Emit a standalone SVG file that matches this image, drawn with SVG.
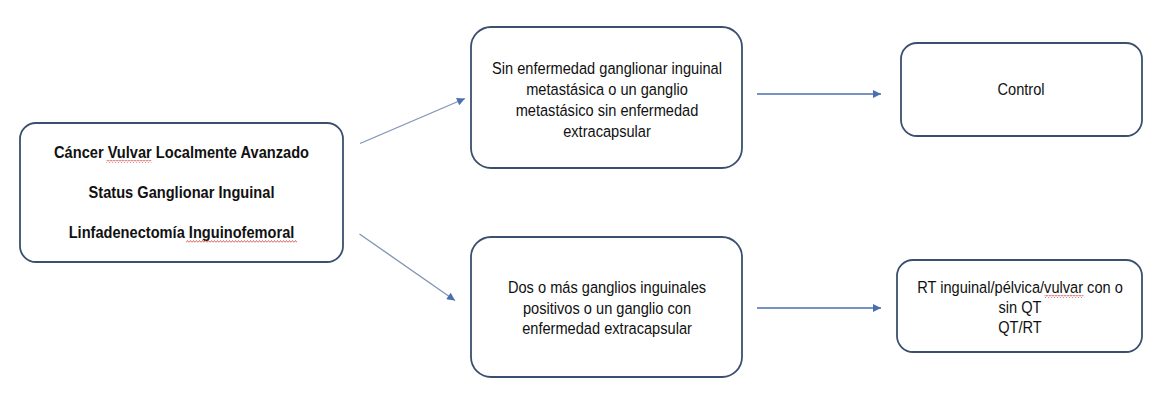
<svg xmlns="http://www.w3.org/2000/svg" width="1160" height="404" viewBox="0 0 1160 404">
<style>
.box{fill:#ffffff;stroke:#3b4f6e;stroke-width:1.8}
.t{font-family:"Liberation Sans",Arial,sans-serif;font-size:17px;fill:#111111;text-anchor:middle}
.b{font-weight:bold}
.diag{stroke:#8094b6;stroke-width:1.3;fill:none}
.hor{stroke:#4a6fae;stroke-width:1.6;fill:none}
.spell{fill:url(#wavy)}
</style>
<defs>
<marker id="ah" viewBox="0 0 10 10" refX="10" refY="5" markerWidth="10" markerHeight="8" markerUnits="userSpaceOnUse" orient="auto">
<path d="M0,0 L10,5 L0,10 Z" fill="#4a6fb0"/>
</marker>
<pattern id="wavy" patternUnits="userSpaceOnUse" x="0" y="0" width="3" height="3">
<polyline points="0,2.5 1.5,0.5 3,2.5" fill="none" stroke="#d24040" stroke-width="0.8"/>
</pattern>
</defs>
<rect width="1160" height="404" fill="#ffffff"/>

<g id="connectors">
<line class="diag" x1="360" y1="143.5" x2="465" y2="98.5" marker-end="url(#ah)"/>
<line class="diag" x1="359.5" y1="234" x2="455" y2="300.5" marker-end="url(#ah)"/>
<line class="hor" x1="757" y1="94" x2="881" y2="94" marker-end="url(#ah)"/>
<line class="hor" x1="757" y1="308" x2="881" y2="308" marker-end="url(#ah)"/>
</g>

<g id="node-main">
<rect class="box" x="20" y="123" width="323" height="139" rx="16"/>
<g transform="translate(181.5,0) scale(0.86,1)">
<text class="t b" x="0" y="158">Cáncer Vulvar Localmente Avanzado</text>
<text class="t b" x="0" y="198">Status Ganglionar Inguinal</text>
<text class="t b" x="0" y="238">Linfadenectomía Inguinofemoral</text>
</g>
<rect class="spell" x="106.5" y="160" width="45" height="3"/>
<rect class="spell" x="186" y="240" width="111" height="3"/>
</g>

<g id="node-sin">
<rect class="box" x="471" y="27" width="271" height="141" rx="20"/>
<g transform="translate(607,0) scale(0.86,1)">
<text class="t" x="0" y="74">Sin enfermedad ganglionar inguinal</text>
<text class="t" x="0" y="95">metastásica o un ganglio</text>
<text class="t" x="0" y="116">metastásico sin enfermedad</text>
<text class="t" x="0" y="137">extracapsular</text>
</g>
</g>

<g id="node-dos">
<rect class="box" x="471" y="237" width="271" height="140" rx="20"/>
<g transform="translate(607,0) scale(0.86,1)">
<text class="t" x="0" y="293">Dos o más ganglios inguinales</text>
<text class="t" x="0" y="314">positivos o un ganglio con</text>
<text class="t" x="0" y="334">enfermedad extracapsular</text>
</g>
</g>

<g id="node-control">
<rect class="box" x="901" y="43" width="241" height="93" rx="16"/>
<g transform="translate(1021,0) scale(0.86,1)">
<text class="t" x="0" y="95">Control</text>
</g>
</g>

<g id="node-rt">
<rect class="box" x="897" y="260" width="245" height="92" rx="16"/>
<g transform="translate(1020,0) scale(0.86,1)">
<text class="t" x="0" y="293">RT inguinal/pélvica/vulvar con o</text>
<text class="t" x="0" y="313">sin QT</text>
<text class="t" x="0" y="333">QT/RT</text>
</g>
<rect class="spell" x="1044.5" y="295" width="39" height="3"/>
</g>
</svg>
